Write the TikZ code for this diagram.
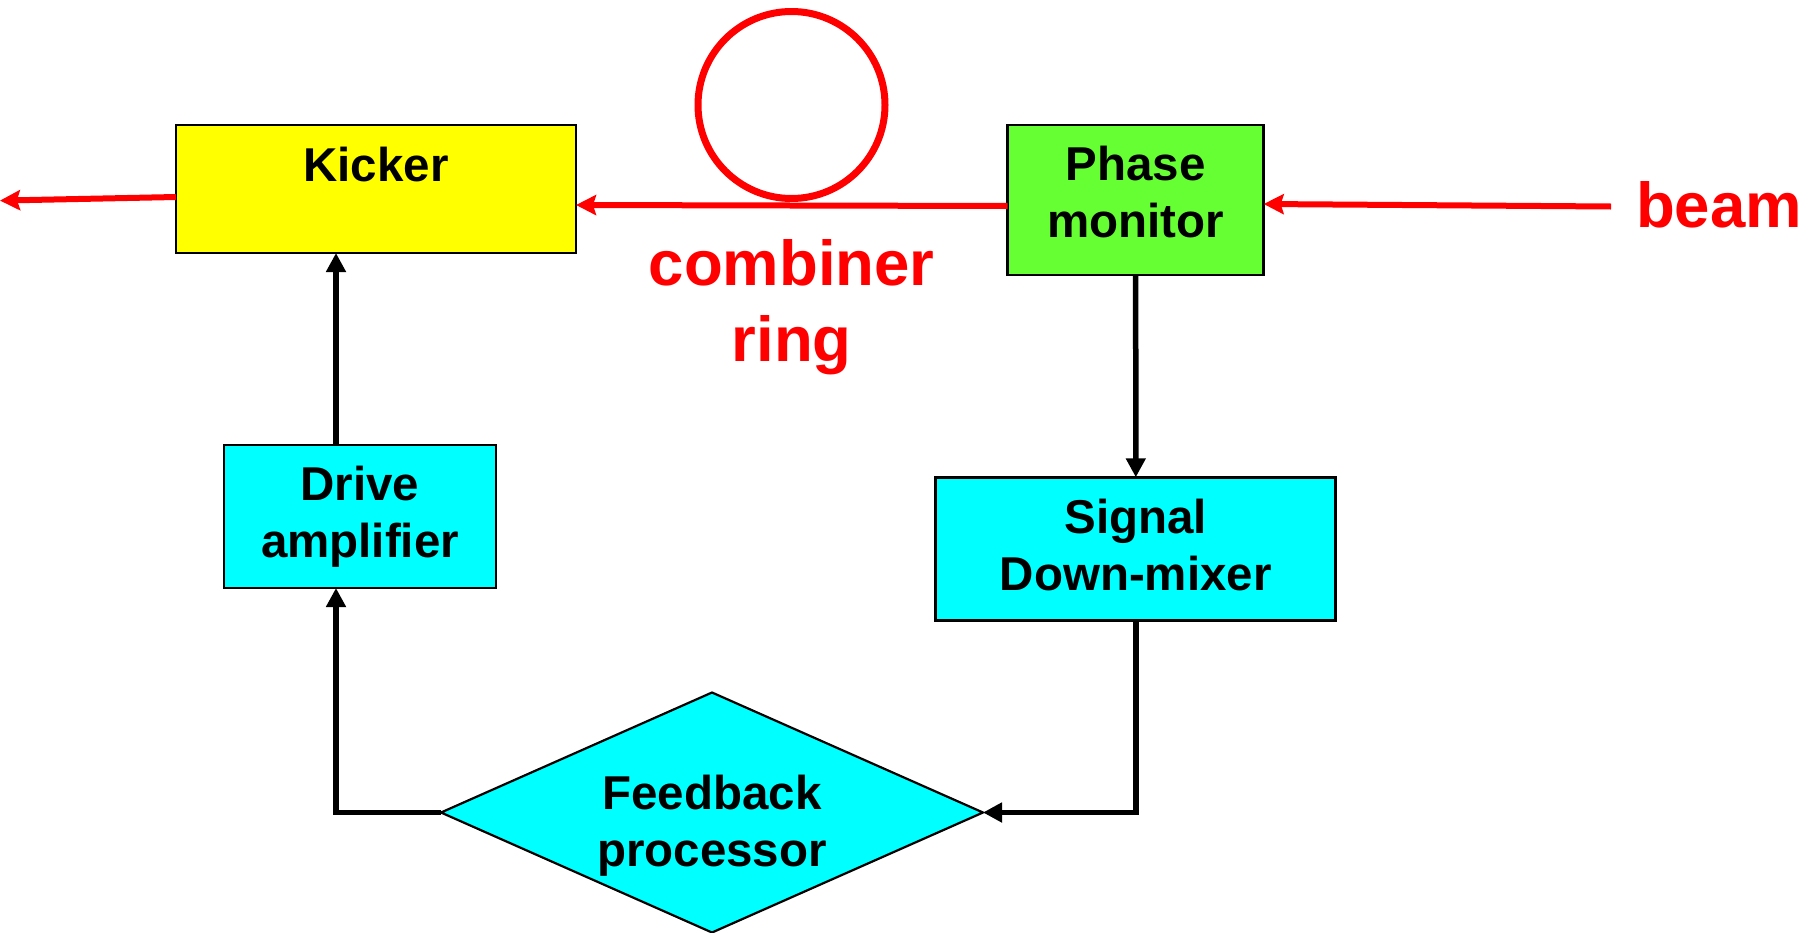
\documentclass[tikz,border=0pt]{standalone}
\usepackage{fontspec}
\setmainfont{Liberation Sans}
\usetikzlibrary{arrows.meta,shapes.geometric}
\definecolor{pmgreen}{HTML}{66FF33}
\definecolor{kyellow}{HTML}{FFFF00}
\definecolor{bcyan}{HTML}{00FFFF}
\definecolor{bred}{HTML}{FF0000}
\tikzset{
  blockbox/.style={draw=black, line width=2.8pt, rectangle, inner sep=0pt, outer sep=0pt,
    align=center, font=\bfseries\fontsize{47.5}{57}\selectfont},
  redlbl/.style={text=bred, inner sep=0pt, align=center, font=\bfseries\fontsize{63.5}{76.7}\selectfont},
  blkarrow/.style={draw=black, line width=5.5pt, -{Triangle[length=19pt,width=19pt]}},
  redarrow/.style={draw=bred, line width=6pt, -{Stealth[length=20pt,width=20pt,inset=3pt]}}
}
\begin{document}
\begin{tikzpicture}[x=1pt,y=-1pt]
\useasboundingbox (0,0) rectangle (1818,932);
% boxes
\node[blockbox, fill=kyellow, minimum width=400pt, minimum height=128pt, text depth=50pt] (kicker) at (376,189) {Kicker};
\node[blockbox, fill=pmgreen, minimum width=256pt, minimum height=150pt, text depth=16pt] (pm) at (1135.7,200) {Phase\\monitor};
\node[blockbox, fill=bcyan, minimum width=272pt, minimum height=143pt] (drive) at (360,516.5) {Drive\\amplifier};
\node[blockbox, fill=bcyan, minimum width=400pt, minimum height=143.5pt, text depth=8pt] (signal) at (1135.8,549) {Signal\\Down-mixer};
\node[blockbox, diamond, line width=2.2pt, aspect=2.26, fill=bcyan, minimum width=542pt, minimum height=240pt, text height=117pt] (fb) at (712,812.5) {Feedback\\processor};
% combiner ring
\node[circle, draw=bred, line width=7pt, minimum size=187pt, inner sep=0pt] (ring) at (791.5,105) {};
% red labels
\node[redlbl, anchor=base] (beamlbl) at (1719,227.7) {beam};
\node[redlbl, anchor=north] (ringlbl) at (791.7,239) {combiner\\ring};
% beam line coordinates
\coordinate (beamin) at (1611,206.5);
\coordinate (beamout) at (0,200.6);
% red connectors
\draw[redarrow] (beamin) -- ([yshift=-4pt]pm.east);
\draw[redarrow] ([yshift=-6pt]pm.west) -- ([yshift=-16pt]kicker.east);
\draw[redarrow] ([yshift=-8pt]kicker.west) -- (beamout);
% black connectors
\draw[blkarrow] (pm.south) -- (signal.north);
\draw[blkarrow] (signal.south) |- (fb.east);
\draw[blkarrow] (fb.west) -| ([xshift=-24pt]drive.south);
\draw[blkarrow] ([xshift=-24pt]drive.north) -- ([xshift=-40pt]kicker.south);
\end{tikzpicture}
\end{document}
